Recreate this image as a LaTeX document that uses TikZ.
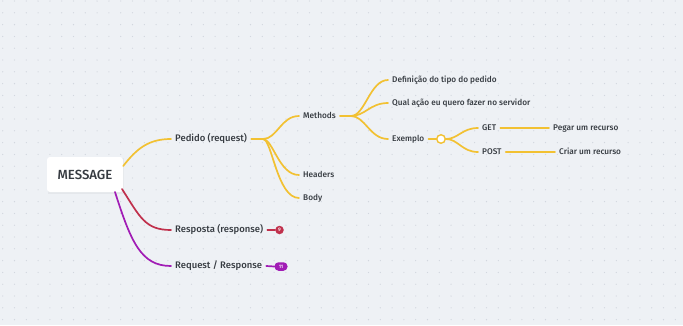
\documentclass[tikz,border=0pt]{standalone}
\usepackage{fontspec}
\setmainfont{Fira Sans}[UprightFont={* Medium}]
\begin{document}
\definecolor{bgcol}{HTML}{EEF1F5}
\definecolor{dotcol}{HTML}{D2D7DE}
\definecolor{txtcol}{HTML}{363B41}
\definecolor{ylw}{HTML}{F2C132}
\definecolor{crim}{HTML}{C0304C}
\definecolor{purp}{HTML}{A11CB5}
\begin{tikzpicture}[x=1pt,y=-1pt,
  topic/.style={anchor=west,inner xsep=4pt,inner ysep=1pt,text=txtcol,
    font=\fontsize{9.5}{10}\selectfont,text height=7pt,text depth=2pt},
  subtopic/.style={topic,font=\fontsize{8.25}{9}\selectfont,text height=6.2pt,text depth=1.8pt},
  yline/.style={draw=ylw,line width=1.7pt,line cap=round},
  rline/.style={draw=crim,line width=1.7pt,line cap=round},
  pline/.style={draw=purp,line width=1.7pt,line cap=round},
  badge/.style={text=white,font=\fontsize{5}{5}\selectfont,inner sep=0pt}]
% canvas with dotted grid
\fill[bgcol] (0,0) rectangle (683,325);
\useasboundingbox (0,0) rectangle (683,325);
\foreach \i in {0,...,57}{
  \foreach \j in {0,...,27}{
    \fill[dotcol] ({2.7+\i*11.8},{1+\j*11.8}) circle (0.65);
  }
}
% central topic
\fill[black,opacity=0.04] (47.5,158) rectangle (124,193.5);
\node[fill=white,rounded corners=3pt,minimum width=76pt,minimum height=35pt,
  text=txtcol,font=\fontsize{13.2}{15}\selectfont] (msg) at (85,174.5) {MESSAGE};
% main branches
\node[topic] (ped) at (171,139) {Pedido (request)};
\node[topic] (resp) at (171,230) {Resposta (response)};
\node[topic] (rr) at (171,266) {Request / Response};
% Pedido children
\node[subtopic] (meth) at (299,116) {Methods};
\node[subtopic] (head) at (299,175) {Headers};
\node[subtopic] (body) at (299,198) {Body};
% Methods children
\node[subtopic] (def) at (388,80) {Definição do tipo do pedido};
\node[subtopic] (qual) at (388,103) {Qual ação eu quero fazer no servidor};
\node[subtopic] (ex) at (388,139) {Exemplo};
% Exemplo children
\node[subtopic] (get) at (478,128) {GET};
\node[subtopic] (post) at (478,152) {POST};
\node[subtopic] (pegar) at (549,128) {Pegar um recurso};
\node[subtopic] (criar) at (555,152) {Criar um recurso};
% junction points
\coordinate (pedj) at (263,139);
\coordinate (methj) at (351,116);
% connectors from the central topic
\draw[yline] (msg.east |- 0,166) .. controls +(14,-18) and +(-22,0) .. (ped.west);
\draw[rline] (122,189) .. controls +(18,28) and +(-26,0) .. (resp.west);
\draw[pline] (115,192) .. controls +(16,50) and +(-30,0) .. (rr.west);
% Pedido subtree
\draw[yline] (ped.east) -- (pedj);
\draw[yline] (pedj) .. controls +(14,0) and +(-18,0) .. (meth.west);
\draw[yline] (pedj) .. controls +(10,0) and +(-20,0) .. (head.west);
\draw[yline] (pedj) .. controls +(9,0) and +(-22,0) .. (body.west);
% Methods subtree
\draw[yline] (meth.east) -- (methj);
\draw[yline] (methj) .. controls +(14,0) and +(-18,0) .. (def.west);
\draw[yline] (methj) .. controls +(14,0) and +(-18,0) .. (qual.west);
\draw[yline] (methj) .. controls +(14,0) and +(-18,0) .. (ex.west);
% Exemplo subtree with collapse handle
\node[circle,draw=ylw,line width=1.4pt,fill=white,minimum size=8.5pt,inner sep=0pt] (exh) at (441,139) {};
\draw[yline] (ex.east) -- (exh.west);
\draw[yline] (exh.east) .. controls +(12,0) and +(-16,0) .. (get.west);
\draw[yline] (exh.east) .. controls +(12,0) and +(-16,0) .. (post.west);
\draw[yline] (get.east) -- (pegar.west);
\draw[yline] (post.east) -- (criar.west);
% counters of collapsed branches
\node[circle,fill=crim,minimum size=8.5pt,badge] (b9) at (279.5,230) {9};
\node[rounded corners=4pt,fill=purp,minimum width=13pt,minimum height=8.5pt,badge] (b11) at (281,266.5) {11};
\draw[rline] (resp.east) -- (b9.west);
\draw[pline] (rr.east) -- (b11.west);
\end{tikzpicture}
\end{document}
